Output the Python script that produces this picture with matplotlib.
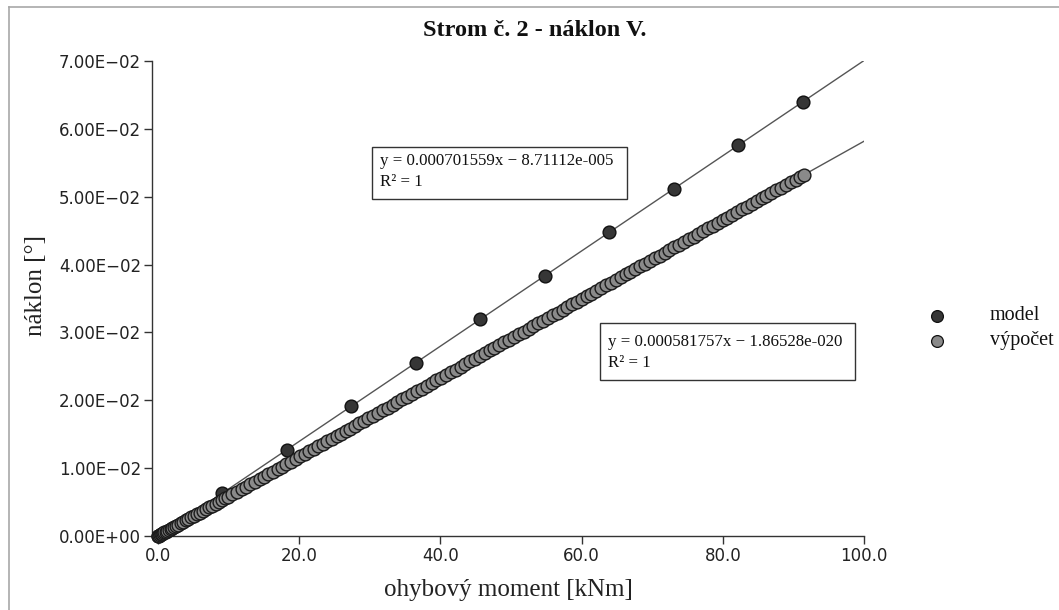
import matplotlib
matplotlib.use("Agg")
import matplotlib.pyplot as plt
from matplotlib.lines import Line2D
from matplotlib.patches import Rectangle
import numpy as np

# ---------------- data ----------------
model_x = [0.0, 9.13, 18.26, 27.39, 36.52, 45.65, 54.78, 63.91, 73.04, 82.17, 91.3]
model_y = [0.0, 0.00632, 0.01272, 0.01913, 0.02553, 0.03194, 0.03834, 0.04475,
           0.05115, 0.05756, 0.06396]

calc_x = [0, 0.12, 0.25, 0.4, 0.55, 0.7, 0.9, 1.1, 1.3, 1.55, 1.8, 2.05, 2.3, 2.6, 2.9,
          3.25, 3.6, 3.95, 4.3, 4.7, 5.1, 5.5, 5.9, 6.35, 6.8, 7.25, 7.7, 8.15, 8.6, 9.05,
          9.5, 9.95,
          10.55, 11.2, 11.85, 12.5, 13.1, 13.75, 14.4, 15.0, 15.65, 16.3, 16.95, 17.6, 18.2,
          18.85, 19.5, 20.15, 20.8, 21.45, 22.1, 22.7, 23.35, 24.0, 24.65, 25.3, 25.95, 26.6,
          27.2, 27.85, 28.5, 29.15, 29.8,
          30.5, 31.2, 31.85, 32.55, 33.25, 33.9, 34.6, 35.3, 36.0, 36.65, 37.35, 38.05, 38.75,
          39.4, 40.1, 40.8, 41.5, 42.15, 42.85, 43.55, 44.25, 44.9, 45.6, 46.3, 47.0, 47.65,
          48.35, 49.05, 49.75, 50.4, 51.1, 51.8, 52.5, 53.15, 53.85, 54.55, 55.25, 55.9, 56.6,
          57.3, 58.0, 58.65, 59.35, 60.05, 60.75, 61.4, 62.1, 62.8, 63.5, 64.15, 64.85, 65.55,
          66.25, 66.9, 67.6, 68.3, 69.0, 69.65, 70.35, 71.05, 71.75, 72.4, 73.1, 73.8, 74.5,
          75.15, 75.85, 76.55, 77.25, 77.9, 78.6, 79.3, 80.0, 80.65, 81.35, 82.05, 82.75, 83.4,
          84.1, 84.8, 85.5, 86.15, 86.85, 87.55, 88.25, 88.9, 89.6, 90.3, 91.0, 91.45]
calc_y = [0.0, 0.0000698, 0.0001454, 0.0002327, 0.0003200, 0.0004072, 0.0005236, 0.0006399,
          0.0007563, 0.0009017, 0.0010472, 0.0011926, 0.0013380, 0.0015126, 0.0016871,
          0.0018907, 0.0020943, 0.0022979, 0.0025016, 0.0027343, 0.0029670, 0.0031997,
          0.0034324, 0.0036942, 0.0039559, 0.0042177, 0.0044795, 0.0047413, 0.0050031,
          0.0052649, 0.0055267, 0.0057885,
          0.0061375, 0.0065157, 0.0068938, 0.0072720, 0.0076210, 0.0079992, 0.0083773,
          0.0087264, 0.0091045, 0.0094826, 0.0098608, 0.0102389, 0.0105880, 0.0109661,
          0.0113443, 0.0117224, 0.0121005, 0.0124787, 0.0128568, 0.0132059, 0.0135840,
          0.0139622, 0.0143403, 0.0147185, 0.0150966, 0.0154747, 0.0158238, 0.0162019,
          0.0165801, 0.0169582, 0.0173364,
          0.0177436, 0.0181508, 0.0185290, 0.0189362, 0.0193434, 0.0197216, 0.0201288,
          0.0205360, 0.0209433, 0.0213214, 0.0217286, 0.0221359, 0.0225431, 0.0229212,
          0.0233285, 0.0237357, 0.0241429, 0.0245211, 0.0249283, 0.0253355, 0.0257428,
          0.0261209, 0.0265281, 0.0269354, 0.0273426, 0.0277207, 0.0281280, 0.0285352,
          0.0289424, 0.0293206, 0.0297278, 0.0301350, 0.0305422, 0.0309204, 0.0313276,
          0.0317348, 0.0321421, 0.0325202, 0.0329275, 0.0333347, 0.0337419, 0.0341201,
          0.0345273, 0.0349345, 0.0353417, 0.0357199, 0.0361271, 0.0365343, 0.0369416,
          0.0373197, 0.0377269, 0.0381342, 0.0385414, 0.0389195, 0.0393268, 0.0397340,
          0.0401412, 0.0405194, 0.0409266, 0.0413338, 0.0417411, 0.0421192, 0.0425264,
          0.0429337, 0.0433409, 0.0437190, 0.0441263, 0.0445335, 0.0449407, 0.0453189,
          0.0457261, 0.0461333, 0.0465406, 0.0469187, 0.0473259, 0.0477332, 0.0481404,
          0.0485185, 0.0489258, 0.0493330, 0.0497402, 0.0501184, 0.0505256, 0.0509328,
          0.0513401, 0.0517182, 0.0521254, 0.0525327, 0.0529399, 0.0532017]

# trendline coefficients (as printed on the chart)
model_fit = (0.000701559, -8.71112e-005)
calc_fit = (0.000581757, -1.86528e-020)
trend_x = [0.0, 100.0]

x_ticks = [0, 20, 40, 60, 80, 100]
y_ticks = [0.0, 0.01, 0.02, 0.03, 0.04, 0.05, 0.06, 0.07]
x_tick_labels = ["0.0", "20.0", "40.0", "60.0", "80.0", "100.0"]
y_tick_labels = ["0.00E+00", "1.00E\u221202", "2.00E\u221202", "3.00E\u221202",
                 "4.00E\u221202", "5.00E\u221202", "6.00E\u221202", "7.00E\u221202"]

title = "Strom č. 2 - náklon V."
xlabel = "ohybový moment [kNm]"
ylabel = "náklon [°]"
legend_labels = ["model", "výpočet"]
eq_model = ["y = 0.000701559x \u2212 8.71112e-005", "R² = 1"]
eq_calc = ["y = 0.000581757x \u2212 1.86528e-020", "R² = 1"]

# ---------------- figure ----------------
W, H = 1059, 610
fig = plt.figure(figsize=(W / 100, H / 100), dpi=100)
fig.patch.set_facecolor("white")

def fx(px):
    return px / W

def fy(py):
    return 1 - py / H

serif = ["Liberation Serif", "DejaVu Serif"]
sans = ["DejaVu Sans"]

ax = fig.add_axes([fx(152), fy(536), fx(864) - fx(152), fy(61) - fy(536)])
ax.set_xlim(-0.85, 100)
ax.set_ylim(0, 0.07)

for s in ["top", "right"]:
    ax.spines[s].set_visible(False)
for s in ["left", "bottom"]:
    ax.spines[s].set_color("#333333")
    ax.spines[s].set_linewidth(1.0)

ax.set_xticks(x_ticks)
ax.set_xticklabels(x_tick_labels, fontfamily=sans, fontsize=12, color="#222222")
ax.set_yticks(y_ticks)
ax.set_yticklabels(y_tick_labels, fontfamily=sans, fontsize=12, color="#222222")
ax.tick_params(axis="both", direction="out", length=6, width=1.0, color="#333333", pad=2)

line_col = "#555555"
tx = np.array(trend_x)
ax.plot(tx, model_fit[0] * tx + model_fit[1], color=line_col, lw=1.0, zorder=2)
ax.plot(tx, calc_fit[0] * tx + calc_fit[1], color=line_col, lw=1.0, zorder=2)

ax.plot(model_x, model_y, linestyle="none", marker="o", markersize=9.2,
        markerfacecolor="#363636", markeredgecolor="#111111", markeredgewidth=1.0,
        zorder=3, clip_on=False)
ax.plot(calc_x, calc_y, linestyle="none", marker="o", markersize=9.2,
        markerfacecolor="#8a8a8a", markeredgecolor="#1a1a1a", markeredgewidth=1.0,
        zorder=4, clip_on=False)

# titles and labels
fig.text(fx(535), fy(30), title, ha="center", va="center", fontfamily=serif,
         fontsize=17.5, fontweight="bold", color="#111111")
fig.text(fx(508), fy(590), xlabel, ha="center", va="center", fontfamily=serif,
         fontsize=18, color="#222222")
fig.text(fx(36), fy(285), ylabel, ha="center", va="center", rotation=90,
         fontfamily=serif, fontsize=18, color="#222222")

# equation boxes
def eq_box(x0, y0, x1, y1, lines, tx0, ty0, dy):
    fig.add_artist(Rectangle((fx(x0), fy(y1)), fx(x1) - fx(x0), fy(y0) - fy(y1),
                             transform=fig.transFigure, fill=False,
                             edgecolor="#333333", linewidth=1.0))
    for i, t in enumerate(lines):
        fig.text(fx(tx0), fy(ty0 + i * dy), t, ha="left", va="center",
                 fontfamily=serif, fontsize=12.2, color="#111111")

eq_box(372, 147, 627, 199, eq_model, 380, 161, 21)
eq_box(600, 323, 855, 380, eq_calc, 608, 342, 21)

# legend
leg_styles = [("#363636", 316), ("#8a8a8a", 341)]
for (fc, py), lab in zip(leg_styles, legend_labels):
    fig.add_artist(Line2D([fx(937)], [fy(py)], transform=fig.transFigure,
                          marker="o", markersize=8.5, markerfacecolor=fc,
                          markeredgecolor="#111111", markeredgewidth=0.9,
                          linestyle="none"))
    fig.text(fx(990), fy(py), lab, ha="left", va="center", fontfamily=serif,
             fontsize=14.5, color="#111111")

# outer frame
fig.add_artist(Line2D([fx(8.5), fx(8.5)], [fy(6.5), 0], transform=fig.transFigure,
                      color="#a8a8a8", lw=1.2))
fig.add_artist(Line2D([fx(8.5), 1], [fy(6.5), fy(6.5)], transform=fig.transFigure,
                      color="#a8a8a8", lw=1.2))

fig.savefig("out.png", dpi=100)
